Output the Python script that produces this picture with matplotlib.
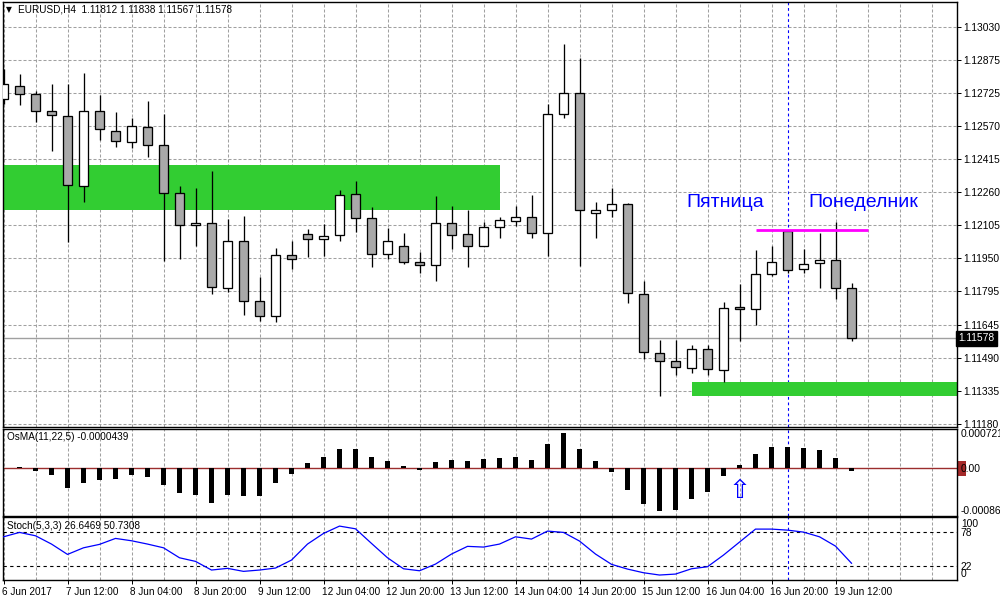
import numpy as np
import matplotlib
matplotlib.use('Agg')
import matplotlib.pyplot as plt
from matplotlib.patches import Rectangle
from matplotlib.transforms import blended_transform_factory, ScaledTranslation

plt.rcParams['font.family'] = ['Liberation Sans', 'DejaVu Sans']
plt.rcParams['font.size'] = 7

# EURUSD H4, 6 Jun 2017 20:00 .. 19 Jun 2017 12:00
opens = [1.12694, 1.12755, 1.12718, 1.12638, 1.12615, 1.12289, 1.12638, 1.12545, 1.12494, 1.12564,
         1.12480, 1.12256, 1.12107, 1.12116, 1.11813, 1.12032, 1.11752, 1.11682, 1.11967, 1.12065,
         1.12041, 1.12061, 1.12251, 1.12139, 1.11972, 1.12009, 1.11934, 1.11920, 1.12116, 1.12065,
         1.12009, 1.12097, 1.12125, 1.12144, 1.12069, 1.12624, 1.12722, 1.12163, 1.12177, 1.12205,
         1.11785, 1.11510, 1.11473, 1.11440, 1.11529, 1.11431, 1.11724, 1.11715, 1.11878, 1.12079,
         1.11902, 1.11930, 1.11944, 1.11812]
highs = [1.12836, 1.12812, 1.12733, 1.12766, 1.12766, 1.12817, 1.12714, 1.12634, 1.12607, 1.12686,
         1.12626, 1.12290, 1.12279, 1.12360, 1.12136, 1.12150, 1.11866, 1.11999, 1.12032, 1.12088,
         1.12111, 1.12271, 1.12313, 1.12191, 1.12093, 1.12069, 1.11981, 1.12243, 1.12197, 1.12178,
         1.12121, 1.12144, 1.12195, 1.12248, 1.12671, 1.12951, 1.12885, 1.12214, 1.12279, 1.12209,
         1.11847, 1.11572, 1.11571, 1.11547, 1.11547, 1.11746, 1.11832, 1.11992, 1.12009, 1.12080,
         1.11996, 1.12071, 1.12122, 1.11838]
lows = [1.12672, 1.12668, 1.12588, 1.12450, 1.12029, 1.12215, 1.12504, 1.12469, 1.12464, 1.12422,
        1.11937, 1.11946, 1.12007, 1.11783, 1.11796, 1.11685, 1.11657, 1.11653, 1.11900, 1.11959,
        1.11964, 1.12030, 1.12072, 1.11909, 1.11950, 1.11925, 1.11881, 1.11844, 1.11995, 1.11909,
        1.12007, 1.12044, 1.12102, 1.12044, 1.11964, 1.12608, 1.11917, 1.12044, 1.12144, 1.11741,
        1.11482, 1.11311, 1.11409, 1.11417, 1.11405, 1.11375, 1.11564, 1.11642, 1.11867, 1.11883,
        1.11883, 1.11813, 1.11762, 1.11567]
closes = [1.12764, 1.12718, 1.12638, 1.12620, 1.12293, 1.12638, 1.12554, 1.12498, 1.12568, 1.12480,
          1.12256, 1.12107, 1.12116, 1.11818, 1.12032, 1.11752, 1.11682, 1.11967, 1.11948, 1.12041,
          1.12055, 1.12247, 1.12139, 1.11972, 1.12032, 1.11934, 1.11920, 1.12116, 1.12060, 1.12009,
          1.12097, 1.12130, 1.12144, 1.12069, 1.12624, 1.12722, 1.12177, 1.12177, 1.12205, 1.11790,
          1.11515, 1.11471, 1.11445, 1.11529, 1.11435, 1.11720, 1.11715, 1.11878, 1.11934, 1.11897,
          1.11925, 1.11944, 1.11813, 1.11578]

# OsMA(11,22,5) in units of 1e-5
osma = [0, 2.4, -5.0, -12.3, -36.2, -27.0, -21.5, -19.7, -12.3, -16.0,
        -30.7, -45.4, -49.1, -63.8, -49.1, -51.0, -51.0, -27.0, -10.5, 9.8,
        20.8, 35.5, 35.5, 20.8, 13.4, 4.2, -2.4, 11.6, 15.3, 13.4,
        17.1, 19.0, 20.8, 15.3, 44.7, 65.0, 35.5, 13.4, -6.8, -39.9,
        -65.7, -78.6, -76.7, -56.5, -43.6, -14.2, 6.1, 26.3, 39.2, 39.2,
        37.4, 33.7, 19.0, -4.39]

# Stoch(5,3,3) main line
stoch = [70.6, 77.9, 72.3, 58.5, 41.3, 52.3, 58.0, 67.9, 64.0, 58.5,
         52.3, 35.7, 29.7, 15.3, 18.1, 13.1, 15.3, 18.6, 31.9, 58.5,
         76.2, 88.4, 83.9, 59.6, 35.7, 17.4, 14.1, 25.2, 41.9, 54.7,
         53.5, 58.5, 70.6, 66.8, 80.1, 77.9, 63.5, 41.9, 24.8, 16.9,
         10.8, 7.0, 8.6, 17.4, 20.8, 40.2, 61.8, 83.4, 83.4, 81.7,
         78.4, 70.6, 55.1, 26.6]

date_labels = ['6 Jun 2017', '7 Jun 12:00', '8 Jun 04:00', '8 Jun 20:00', '9 Jun 12:00',
               '12 Jun 04:00', '12 Jun 20:00', '13 Jun 12:00', '14 Jun 04:00', '14 Jun 20:00',
               '15 Jun 12:00', '16 Jun 04:00', '16 Jun 20:00', '19 Jun 12:00']
price_labels = ['1.11180', '1.11335', '1.11490', '1.11645', '1.11795', '1.11950', '1.12105',
                '1.12260', '1.12415', '1.12570', '1.12725', '1.12875', '1.13030']
osma_levels = [-0.000869, 0.0, 0.000721]
osma_labels = ['-0.000869', '0.00', '0.000721']
stoch_levels = [0, 22, 78, 100]

zone_top = [1.12388, 1.11375]
zone_bottom = [1.12178, 1.11311]
zone_start = [-2, 43]
zone_end = [31, 62]

friday_high = 1.12085
friday_bars = (47, 54)
week_bar = 49
signal_bar = 46

GRID = '#A0A0A0'
BEAR = '#A9A9A9'
PX = 0.72  # one pixel in points
grid_kw = dict(color=GRID, linestyle=(0, (2.9, 1.9)), linewidth=0.75)

fig = plt.figure(figsize=(10, 6), dpi=100)
ax = fig.add_axes([0.0025, 0.2888, 0.9542, 0.7083])
ax2 = fig.add_axes([0.0025, 0.1405, 0.9542, 0.144])
ax3 = fig.add_axes([0.0025, 0.0338, 0.9542, 0.104])

n = len(opens)
x = np.arange(n)
xmin, xmax = -0.0625, 59.575

for a in (ax, ax2, ax3):
    a.set_xlim(xmin, xmax)
    a.yaxis.tick_right()
    for s in a.spines.values():
        s.set_linewidth(PX * 1.4)
    a.set_xticks(np.arange(0, 60, 2), minor=True)
    a.grid(axis='x', which='both', **grid_kw)
    a.set_axisbelow(True)
    a.axvline(week_bar, color='#0000FF', linestyle=(0, (2.5, 2.5)), linewidth=0.8, zorder=1)

# ---- price panel
ax.set_ylim(1.11166, 1.13148)
ax.set_yticks(np.linspace(1.11180, 1.13030, len(price_labels)))
ax.set_yticklabels(price_labels)
ax.grid(axis='y', **grid_kw)
ax.tick_params(axis='y', length=3, width=PX, pad=2, labelsize=7.4)
ax.set_xticks([])
ax.tick_params(axis='x', which='both', length=0, labelbottom=False)

for lo, hi, s, e in zip(zone_bottom, zone_top, zone_start, zone_end):
    ax.add_patch(Rectangle((s, lo), e - s, hi - lo, facecolor='#32CD32',
                           edgecolor='none', zorder=1))

ax.axhline(closes[-1], color=GRID, linewidth=1.0, zorder=1.5)

o = np.array(opens)
c = np.array(closes)
ax.vlines(x, lows, highs, color='black', linewidth=PX * 1.3, zorder=2)
ax.bar(x, np.abs(c - o), bottom=np.minimum(o, c), width=0.58,
       color=np.where(c >= o, 'white', BEAR), edgecolor='black', linewidth=PX * 1.3, zorder=3)

ax.hlines(friday_high, friday_bars[0], friday_bars[1], color='#FF00FF', linewidth=2, zorder=4)
ax.text(42.66, 1.12190, 'Пятница', color='#0000FF', fontsize=14, va='baseline', ha='left')
ax.text(50.28, 1.12190, 'Понеделник', color='#0000FF', fontsize=14, va='baseline', ha='left')

tr = blended_transform_factory(ax.transAxes, ax.transData)
ax.text(1.0015, closes[-1], f'{closes[-1]:.5f}', transform=tr, color='white', fontsize=7.4,
        va='center', ha='left', bbox=dict(facecolor='black', edgecolor='black', pad=1.8),
        clip_on=False, zorder=5)

fig.text(0.006, 1 - 10 / 600, '▼', fontsize=5.5, va='center', family='DejaVu Sans')
fig.text(0.018, 1 - 10 / 600, f'EURUSD,H4  {opens[-1]:.5f} {highs[-1]:.5f} {lows[-1]:.5f} {closes[-1]:.5f}',
         fontsize=7.2, va='center')

# ---- OsMA panel
osma_v = np.array(osma) * 1e-5
ax2.set_ylim(osma_levels[0], osma_levels[-1])
ax2.bar(x, osma_v, width=0.33, color='black', zorder=3)
ax2.axhline(0, color='#9B2D2D', linewidth=1.0, zorder=2)
ax2.set_yticks(osma_levels)
ax2.set_yticklabels(osma_labels)
ax2.tick_params(axis='y', length=0, pad=3, labelsize=7.4)
ax2.tick_params(axis='x', which='both', length=0, labelbottom=False)
ax2.set_xticks([])
ylab = ax2.get_yticklabels()
ylab[0].set_va('bottom')
ylab[-1].set_va('top')
tr2 = blended_transform_factory(ax2.transAxes, ax2.transData)
ax2.add_patch(Rectangle((1.0015, -0.00013), 0.0085, 0.00026, transform=tr2,
                        facecolor='#A52A2A', edgecolor='none', clip_on=False, zorder=0.5))
ax2.text(signal_bar, -0.00042, '⇧', color='#0000FF', fontsize=19, ha='center', va='center',
         family='DejaVu Sans', zorder=4)
fig.text(0.007, 1 - 437 / 600, f'OsMA(11,22,5) {osma_v[-1]:.7f}', fontsize=7.2, va='center')

# ---- Stochastic panel
ax3.set_ylim(-0.8, 103)
ax3.plot(x, stoch, color='#0000FF', linewidth=0.9, zorder=3)
for lvl in (22, 78):
    ax3.axhline(lvl, color='black', linestyle=(0, (3, 3)), linewidth=0.8, zorder=2)
ax3.set_yticks(stoch_levels)
ax3.set_yticklabels([str(v) for v in stoch_levels])
ax3.tick_params(axis='y', length=0, pad=3, labelsize=7.4)
ylab = ax3.get_yticklabels()
ylab[0].set_va('bottom')
ylab[-1].set_va('top')
ax3.set_xticks(np.arange(0, 4 * len(date_labels), 4))
ax3.set_xticklabels(date_labels)
ax3.tick_params(axis='x', which='major', length=3, width=PX, pad=2, labelsize=7.2)
ax3.tick_params(axis='x', which='minor', length=0)
shift = ScaledTranslation(-2 / 100, 0, fig.dpi_scale_trans)
for lbl in ax3.get_xticklabels():
    lbl.set_ha('left')
    lbl.set_transform(lbl.get_transform() + shift)
fig.text(0.007, 1 - 526 / 600, 'Stoch(5,3,3) 26.6469 50.7308', fontsize=7.2, va='center')

fig.savefig('out.png', dpi=100)
